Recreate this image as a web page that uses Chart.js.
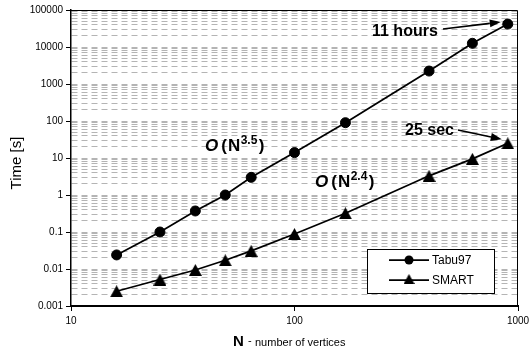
<!DOCTYPE html>
<html>
<head>
<meta charset="utf-8">
<script src="https://cdn.jsdelivr.net/npm/chart.js@4.4.0/dist/chart.umd.min.js"></script>
<style>
    html, body { margin: 0; padding: 0; background: #fff; }
    canvas { display: block; }
</style>
</head>
<body>
<canvas id="chartTime" width="529" height="361"></canvas>
<script>
// Values (N = number of vertices, time in seconds)
const vertices = [16, 25, 36, 49, 64, 100, 169, 400, 625, 900];
const timeTabu97 = [0.024, 0.1, 0.37, 1.0, 3.0, 14, 90, 2240, 12600, 41700];
const timeSmart = [0.0025, 0.0052, 0.0094, 0.0172, 0.031, 0.088, 0.32, 3.3, 9.5, 25];
const seriesNames = ['Tabu97', 'SMART'];
const xTicks = [10, 100, 1000];
const xLabels = ['10', '100', '1000'];
const yTicks = [0.001, 0.01, 0.1, 1, 10, 100, 1000, 10000, 100000];
const yLabels = ['0.001', '0.01', '0.1', '1', '10', '100', '1000', '10000', '100000'];

const FONT = "'Liberation Sans', Arial, sans-serif";

// Triangle marker centred on its bounding box, like the spreadsheet markers
function makeTriangle(w, h) {
    const c = document.createElement('canvas');
    c.width = w;
    c.height = h;
    const g = c.getContext('2d');
    g.fillStyle = '#000';
    g.beginPath();
    g.moveTo(w / 2, 0);
    g.lineTo(w, h);
    g.lineTo(0, h);
    g.closePath();
    g.fill();
    return c;
}
const triangle = makeTriangle(13, 12);

// Find the index of a decade tick (or -1 for a minor tick)
function decadeIndex(value) {
    return yTicks.findIndex(t => Math.abs(t - value) / t < 1e-9);
}

// Decade lines plus the minor lines 2..9 in between
function buildYTicks(scale) {
    const ticks = [];
    for (let i = 0; i < yTicks.length - 1; i++) {
        for (let m = 1; m <= 9; m++) {
            ticks.push({ value: Number((m * yTicks[i]).toPrecision(10)) });
        }
    }
    ticks.push({ value: yTicks[yTicks.length - 1] });
    scale.ticks = ticks;
}

// Arrow with a filled head
function drawArrow(ctx, x1, y1, x2, y2) {
    const a = Math.atan2(y2 - y1, x2 - x1);
    const head = 11, half = 4;
    const bx = x2 - head * Math.cos(a);
    const by = y2 - head * Math.sin(a);
    ctx.lineWidth = 1.6;
    ctx.strokeStyle = '#000';
    ctx.fillStyle = '#000';
    ctx.beginPath();
    ctx.moveTo(x1, y1);
    ctx.lineTo(bx, by);
    ctx.stroke();
    ctx.beginPath();
    ctx.moveTo(x2, y2);
    ctx.lineTo(bx + half * Math.sin(a), by - half * Math.cos(a));
    ctx.lineTo(bx - half * Math.sin(a), by + half * Math.cos(a));
    ctx.closePath();
    ctx.fill();
}

// "O(N^p)" label with italic O and a superscript
function drawOrder(ctx, x, y, power) {
    ctx.fillStyle = '#000';
    ctx.textBaseline = 'alphabetic';
    ctx.textAlign = 'left';
    ctx.font = 'italic bold 17px ' + FONT;
    ctx.fillText('O', x, y);
    x += ctx.measureText('O').width + 3;
    ctx.font = 'bold 17px ' + FONT;
    ctx.fillText('(', x, y);
    x += ctx.measureText('(').width + 1;
    ctx.fillText('N', x, y);
    x += ctx.measureText('N').width + 0.5;
    ctx.font = 'bold 12px ' + FONT;
    ctx.fillText(power, x, y - 7);
    x += ctx.measureText(power).width + 1.5;
    ctx.font = 'bold 17px ' + FONT;
    ctx.fillText(')', x, y);
}

const extras = {
    id: 'extras',
    beforeDatasetsDraw(chart) {
        const { ctx, chartArea: a } = chart;
        // top and right frame of the plot area
        ctx.save();
        ctx.strokeStyle = '#000';
        ctx.lineWidth = 1;
        ctx.beginPath();
        ctx.moveTo(a.left, a.top + 0.5);
        ctx.lineTo(a.right - 0.5, a.top + 0.5);
        ctx.lineTo(a.right - 0.5, a.bottom);
        ctx.stroke();
        ctx.restore();
    },
    afterDatasetsDraw(chart) {
        const { ctx } = chart;
        ctx.save();

        // annotations
        drawOrder(ctx, 205, 151, '3.5');
        drawOrder(ctx, 315, 187, '2.4');

        ctx.font = 'bold 16px ' + FONT;
        ctx.fillStyle = '#000';
        ctx.textAlign = 'left';
        ctx.textBaseline = 'alphabetic';
        ctx.fillText('11 hours', 372, 36);
        ctx.fillText('25 sec', 405, 135);

        const lastTabu = chart.getDatasetMeta(0).data[vertices.length - 1];
        const lastSmart = chart.getDatasetMeta(1).data[vertices.length - 1];
        drawArrow(ctx, 443, 29, lastTabu.x - 7, lastTabu.y - 2);
        drawArrow(ctx, 458, 130, lastSmart.x - 6, lastSmart.y - 4);

        // legend box
        const lx = 367, ly = 249, lw = 127, lh = 44;
        ctx.fillStyle = '#fff';
        ctx.fillRect(lx, ly, lw, lh);
        ctx.strokeStyle = '#000';
        ctx.lineWidth = 1;
        ctx.strokeRect(lx + 0.5, ly + 0.5, lw, lh);

        chart.data.datasets.forEach((ds, i) => {
            const y = 260 + i * 20;
            ctx.strokeStyle = '#000';
            ctx.lineWidth = 1.75;
            ctx.beginPath();
            ctx.moveTo(389, y);
            ctx.lineTo(429, y);
            ctx.stroke();
            if (i === 0) {
                ctx.fillStyle = '#000';
                ctx.beginPath();
                ctx.arc(409, y, 4.5, 0, Math.PI * 2);
                ctx.fill();
            } else {
                ctx.drawImage(makeTriangle(11, 10), 409 - 5.5, y - 6);
            }
            ctx.fillStyle = '#000';
            ctx.font = '12px ' + FONT;
            ctx.textBaseline = 'middle';
            ctx.fillText(ds.label, 432, y + 1);
        });

        // axis titles
        ctx.textBaseline = 'alphabetic';
        ctx.font = 'bold 15px ' + FONT;
        ctx.fillText('N', 233, 346);
        ctx.font = '11px ' + FONT;
        ctx.fillText('-', 248, 344);
        ctx.fillText('number of vertices', 255, 346);

        ctx.translate(21, 163);
        ctx.rotate(-Math.PI / 2);
        ctx.textAlign = 'center';
        ctx.font = '15px ' + FONT;
        ctx.fillText('Time [s]', 0, 0);

        ctx.restore();
    }
};

const ctx = document.getElementById('chartTime').getContext('2d');
const chart = new Chart(ctx, {
    type: 'line',
    data: {
        labels: vertices,
        datasets: [{
            label: seriesNames[0],
            data: vertices.map((n, i) => ({ x: n, y: timeTabu97[i] })),
            borderColor: '#000',
            backgroundColor: '#000',
            borderWidth: 1.75,
            pointStyle: 'circle',
            pointRadius: 5,
            pointBorderWidth: 1,
            tension: 0
        }, {
            label: seriesNames[1],
            data: vertices.map((n, i) => ({ x: n, y: timeSmart[i] })),
            borderColor: '#000',
            backgroundColor: '#000',
            borderWidth: 1.75,
            pointStyle: triangle,
            pointRadius: 6,
            tension: 0
        }]
    },
    options: {
        responsive: false,
        animation: false,
        devicePixelRatio: 1,
        layout: { padding: { top: 10, right: 11, left: 0, bottom: 0 } },
        plugins: {
            legend: { display: false },
            tooltip: { enabled: false }
        },
        scales: {
            x: {
                type: 'logarithmic',
                min: 10,
                max: 1000,
                afterBuildTicks: scale => { scale.ticks = xTicks.map(v => ({ value: v })); },
                afterFit: scale => {
                    scale.height = 55;
                    scale.paddingLeft = 0;
                    scale.paddingRight = 0;
                },
                ticks: {
                    autoSkip: false,
                    maxRotation: 0,
                    padding: 4,
                    color: '#000',
                    font: { family: FONT, size: 10 },
                    callback: value => {
                        const i = xTicks.indexOf(value);
                        return i >= 0 ? xLabels[i] : '';
                    }
                },
                grid: {
                    drawOnChartArea: false,
                    drawTicks: true,
                    tickLength: 5,
                    tickColor: '#000'
                },
                border: { display: true, color: '#000', width: 2 }
            },
            y: {
                type: 'logarithmic',
                min: 0.001,
                max: 100000,
                afterBuildTicks: buildYTicks,
                afterFit: scale => { scale.width = 71; },
                ticks: {
                    autoSkip: false,
                    padding: 3,
                    color: '#000',
                    font: { family: FONT, size: 10 },
                    callback: value => {
                        const i = decadeIndex(value);
                        return i >= 0 ? yLabels[i] : '';
                    }
                },
                grid: {
                    color: '#b4b4b4',
                    lineWidth: 1,
                    drawTicks: true,
                    tickLength: 5,
                    tickColor: c => (c.tick && decadeIndex(c.tick.value) >= 0) ? '#000' : 'rgba(0,0,0,0)'
                },
                border: { display: true, color: '#000', width: 1.5, dash: [6, 4] }
            }
        }
    },
    plugins: [extras]
});
</script>
</body>
</html>
